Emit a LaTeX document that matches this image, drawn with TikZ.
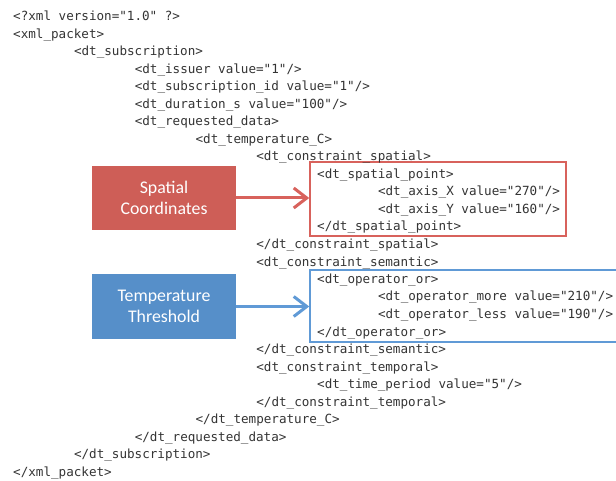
\documentclass[tikz,border=0pt]{standalone}
\usepackage{fontspec}
\setmainfont{Carlito}
\newfontfamily\codefont{DejaVu Sans Mono}
\usetikzlibrary{arrows.meta}

\definecolor{codegray}{RGB}{52,52,52}
\definecolor{redfill}{RGB}{206,94,87}
\definecolor{redline}{RGB}{216,98,92}
\definecolor{bluefill}{RGB}{86,143,201}
\definecolor{blueline}{RGB}{96,154,214}

\tikzset{
  codeline/.style={anchor=base west, inner sep=0pt, text=codegray,
    font=\codefont\fontsize{12.6}{15}\selectfont},
  label/.style={inner sep=0pt, minimum width=144pt, align=center, text=white,
    font=\fontsize{17.8}{21}\selectfont},
  frame/.style={draw, line width=1.6pt, inner sep=0pt},
  pointer/.style={line width=3pt, -{Straight Barb[length=13pt,width=20pt]}},
}

% one line of the listing: line number, indent level, text
\newcommand\codeline[3]{%
  \node[codeline] (l#1) at ({13+60.8*#2},{21+17.5*(#1-1)}) {#3};}

\begin{document}
\begin{tikzpicture}[x=1pt,y=-1pt]
\useasboundingbox[fill=white] (0,0) rectangle (616,481);

% highlight frames around the spatial point and the operator block
\node[frame, draw=redline, minimum width=256pt, minimum height=74pt]
  (redframe) at (438,199) {};
\node[frame, draw=blueline, minimum width=320pt, minimum height=72pt]
  (blueframe) at (470,306) {};

% the XML listing
\codeline{1}{0}{<?xml version="1.0" ?>}
\codeline{2}{0}{<xml\_packet>}
\codeline{3}{1}{<dt\_subscription>}
\codeline{4}{2}{<dt\_issuer value="1"/>}
\codeline{5}{2}{<dt\_subscription\_id value="1"/>}
\codeline{6}{2}{<dt\_duration\_s value="100"/>}
\codeline{7}{2}{<dt\_requested\_data>}
\codeline{8}{3}{<dt\_temperature\_C>}
\codeline{9}{4}{<dt\_constraint\_spatial>}
\codeline{10}{5}{<dt\_spatial\_point>}
\codeline{11}{6}{<dt\_axis\_X value="270"/>}
\codeline{12}{6}{<dt\_axis\_Y value="160"/>}
\codeline{13}{5}{</dt\_spatial\_point>}
\codeline{14}{4}{</dt\_constraint\_spatial>}
\codeline{15}{4}{<dt\_constraint\_semantic>}
\codeline{16}{5}{<dt\_operator\_or>}
\codeline{17}{6}{<dt\_operator\_more value="210"/>}
\codeline{18}{6}{<dt\_operator\_less value="190"/>}
\codeline{19}{5}{</dt\_operator\_or>}
\codeline{20}{4}{</dt\_constraint\_semantic>}
\codeline{21}{4}{<dt\_constraint\_temporal>}
\codeline{22}{5}{<dt\_time\_period value="5"/>}
\codeline{23}{4}{</dt\_constraint\_temporal>}
\codeline{24}{3}{</dt\_temperature\_C>}
\codeline{25}{2}{</dt\_requested\_data>}
\codeline{26}{1}{</dt\_subscription>}
\codeline{27}{0}{</xml\_packet>}

% callout boxes
\node[label, fill=redfill, minimum height=64pt] (spatial) at (164,198)
  {Spatial\\Coordinates};
\node[label, fill=bluefill, minimum height=65pt] (threshold) at (164,306.5)
  {Temperature\\Threshold};

% pointers into the frames
\draw[pointer, redline] (spatial.east) -- (redframe.west |- spatial.east);
\draw[pointer, blueline] (threshold.east) -- (blueframe.west |- threshold.east);
\end{tikzpicture}
\end{document}
